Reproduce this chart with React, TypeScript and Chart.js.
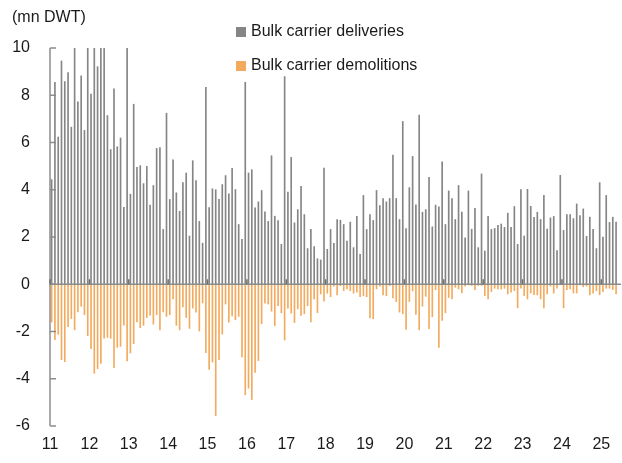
import React, { useEffect, useRef } from "react";
import { Chart, registerables } from "chart.js";

Chart.register(...registerables);

// Monthly data, Jan 2011 – May 2025 (mn DWT)
const deliveries: number[] = [
  // 2011
  4.43, 8.55, 6.23, 9.45, 8.58, 8.96, 6.65, 10.4, 7.72, 8.82, 6.51, 10.5,
  // 2012
  8.05, 10.4, 9.21, 10.6, 10.3, 7.14, 5.7, 8.27, 5.82, 6.19, 3.26, 10.2,
  // 2013
  3.81, 7.62, 4.95, 5.02, 4.26, 4.99, 3.35, 4.18, 5.75, 5.78, 2.32, 7.24,
  // 2014
  3.59, 5.27, 3.87, 3.09, 4.3, 4.71, 2.04, 5.23, 4.39, 2.66, 1.74, 8.34,
  // 2015
  3.25, 4.04, 4.0, 3.59, 4.22, 4.6, 3.83, 4.91, 4.01, 2.53, 1.9, 8.55,
  // 2016
  4.71, 4.85, 3.23, 3.49, 3.97, 3.07, 2.66, 5.44, 2.88, 2.69, 1.69, 8.79,
  // 2017
  3.9, 5.37, 2.6, 3.16, 4.15, 2.95, 1.51, 2.32, 1.59, 1.08, 1.03, 4.92,
  // 2018
  1.48, 2.32, 1.73, 2.74, 2.71, 2.53, 1.83, 2.63, 1.55, 2.87, 1.27, 3.76,
  // 2019
  2.32, 2.95, 2.7, 3.97, 3.33, 3.63, 3.49, 3.63, 5.47, 3.63, 2.74, 6.89,
  // 2020
  2.36, 4.09, 5.41, 3.36, 7.16, 3.05, 3.16, 4.53, 2.43, 3.35, 3.28, 5.18,
  // 2021
  2.53, 3.95, 3.63, 2.74, 4.18, 3.05, 1.97, 3.95, 2.33, 3.21, 1.55, 4.67,
  // 2022
  1.41, 2.87, 2.32, 2.36, 2.49, 2.55, 2.41, 3.01, 2.41, 3.29, 1.69, 4.01,
  // 2023
  2.04, 4.02, 3.3, 2.83, 3.05, 2.74, 3.76, 2.33, 2.81, 2.87, 1.42, 4.61,
  // 2024
  2.28, 2.95, 2.95, 2.78, 3.4, 2.91, 3.19, 2.03, 2.84, 2.32, 1.51, 4.3,
  // 2025
  2.0, 3.76, 2.62, 2.84, 2.63,
];

const demolitions: number[] = [
  // 2011
  -1.6, -2.35, -2.12, -3.19, -3.28, -1.8, -1.45, -1.93, -1.17, -0.93, -1.29, -2.18,
  // 2012
  -2.73, -3.77, -3.57, -3.35, -2.28, -2.25, -2.29, -3.53, -2.67, -2.63, -1.73, -3.25,
  // 2013
  -2.91, -2.52, -1.59, -1.84, -1.74, -1.41, -1.31, -1.69, -1.29, -1.93, -1.17, -1.36,
  // 2014
  -1.29, -0.62, -1.74, -1.93, -0.96, -1.41, -1.87, -1.01, -1.18, -1.98, -0.79, -2.9,
  // 2015
  -3.61, -3.29, -5.56, -3.19, -2.11, -0.84, -1.6, -1.34, -1.5, -1.36, -3.08, -4.68,
  // 2016
  -4.4, -4.88, -3.73, -3.23, -1.67, -0.8, -0.84, -1.14, -1.76, -0.91, -1.21, -2.36,
  // 2017
  -1.01, -1.22, -1.62, -1.04, -1.32, -1.25, -0.91, -1.59, -0.62, -1.2, -0.41, -0.72,
  // 2018
  -0.38, -0.53, -0.08, -0.45, -0.06, -0.27, -0.2, -0.27, -0.38, -0.34, -0.53, -0.48,
  // 2019
  -0.53, -1.42, -1.46, -0.2, -0.08, -0.45, -0.48, -0.06, -0.58, -0.73, -1.18, -1.25,
  // 2020
  -1.91, -0.73, -0.28, -1.28, -1.93, -0.93, -0.51, -1.88, -1.38, -0.23, -2.67, -1.53,
  // 2021
  -1.21, -0.56, -0.62, -0.13, -0.2, -0.37, -0.08, -0.03, -0.05, -0.23, -0.05, -0.05,
  // 2022
  -0.48, -0.62, -0.31, -0.17, -0.2, -0.2, -0.17, -0.41, -0.34, -0.27, -1.0, -0.17,
  // 2023
  -0.48, -0.62, -0.37, -0.44, -0.45, -0.62, -1.0, -0.41, -0.08, -0.38, -0.17, -0.03,
  // 2024
  -1.0, -0.23, -0.2, -0.37, -0.37, -0.03, -0.11, -0.08, -0.45, -0.38, -0.27, -0.44,
  // 2025
  -0.31, -0.17, -0.17, -0.23, -0.41,
];

const yearLabels: string[] = [
  "11", "12", "13", "14", "15", "16", "17", "18", "19", "20", "21", "22", "23", "24", "25",
];
const yTicks: number[] = [-6, -4, -2, 0, 2, 4, 6, 8, 10];
const unitLabel = "(mn DWT)";
const seriesNames: string[] = ["Bulk carrier deliveries", "Bulk carrier demolitions"];

const GRAY = "#858585";
const ORANGE = "#f2ab5e";
const FONT = '"Liberation Sans", Arial, sans-serif';

const decorPlugin = {
  id: "decor",
  afterDatasetsDraw(chart: any) {
    const { ctx, chartArea, scales } = chart;
    const x = scales.x;
    const y = scales.y;
    const left = chartArea.left;
    const y0 = y.getPixelForValue(0);
    ctx.save();
    ctx.strokeStyle = "#8c8c8c";
    ctx.lineWidth = 1.5;
    // zero line
    ctx.beginPath();
    ctx.moveTo(left, y0);
    ctx.lineTo(chartArea.right, y0);
    ctx.stroke();
    // y axis line
    ctx.beginPath();
    ctx.moveTo(left, y.getPixelForValue(yTicks[yTicks.length - 1]));
    ctx.lineTo(left, y.getPixelForValue(yTicks[0]));
    ctx.stroke();
    // inward y ticks
    ctx.beginPath();
    y.ticks.forEach((t: any) => {
      const py = y.getPixelForValue(t.value);
      ctx.moveTo(left, py);
      ctx.lineTo(left + 6, py);
    });
    ctx.stroke();
    // x year ticks on zero line
    ctx.strokeStyle = "#707070";
    ctx.beginPath();
    x.ticks.forEach((t: any) => {
      const px = x.getPixelForValue(t.value);
      ctx.moveTo(px, y0);
      ctx.lineTo(px, y0 - 5);
    });
    ctx.stroke();

    // unit label
    ctx.fillStyle = "#1a1a1a";
    ctx.font = `16px ${FONT}`;
    ctx.textBaseline = "middle";
    ctx.textAlign = "left";
    ctx.fillText(unitLabel, 12, 18);

    // legend
    const items = chart.data.datasets;
    const ys = [32, 66];
    items.forEach((ds: any, i: number) => {
      ctx.fillStyle = ds.backgroundColor;
      ctx.fillRect(236, ys[i] - 5, 10, 10);
      ctx.fillStyle = "#1a1a1a";
      ctx.fillText(ds.label, 251, ys[i]);
    });
    ctx.restore();
  },
};

export default function App() {
  const ref = useRef<HTMLCanvasElement | null>(null);

  useEffect(() => {
    document.body.style.margin = "0";
    const canvas = ref.current;
    if (!canvas) return;
    const chart = new Chart(canvas, {
      type: "bar",
      data: {
        datasets: [
          {
            label: seriesNames[0],
            data: deliveries.map((v, i) => ({ x: i + 0.5, y: v })),
            backgroundColor: GRAY,
            barThickness: 1,
            grouped: false,
          } as any,
          {
            label: seriesNames[1],
            data: demolitions.map((v, i) => ({ x: i + 0.5, y: v })),
            backgroundColor: ORANGE,
            barThickness: 1,
            grouped: false,
          } as any,
        ],
      },
      options: {
        animation: false,
        responsive: false,
        devicePixelRatio: 1,
        layout: { padding: { top: 48, right: 1, left: 0, bottom: 0 } },
        plugins: {
          legend: { display: false },
          tooltip: { enabled: false },
          title: { display: false },
        },
        scales: {
          x: {
            type: "linear",
            min: 0,
            max: 174,
            offset: false,
            grid: { display: false, drawTicks: false },
            border: { display: false },
            afterFit: (s: any) => {
              s.height = 37;
            },
            ticks: {
              stepSize: 12,
              includeBounds: false,
              autoSkip: false,
              maxRotation: 0,
              padding: 9,
              color: "#1a1a1a",
              font: { family: FONT, size: 16 },
              callback: (v: any) => yearLabels[Math.round(Number(v) / 12)] ?? "",
            },
          },
          y: {
            min: yTicks[0],
            max: yTicks[yTicks.length - 1],
            grid: { display: false, drawTicks: false },
            border: { display: false },
            afterFit: (s: any) => {
              s.width = 50;
            },
            ticks: {
              stepSize: 2,
              padding: 20,
              color: "#1a1a1a",
              font: { family: FONT, size: 16 },
            },
          },
        },
      } as any,
      plugins: [decorPlugin],
    });
    return () => chart.destroy();
  }, []);

  return (
    <div style={{ width: 622, height: 463, background: "#fff" }}>
      <canvas ref={ref} width={622} height={463} />
    </div>
  );
}
